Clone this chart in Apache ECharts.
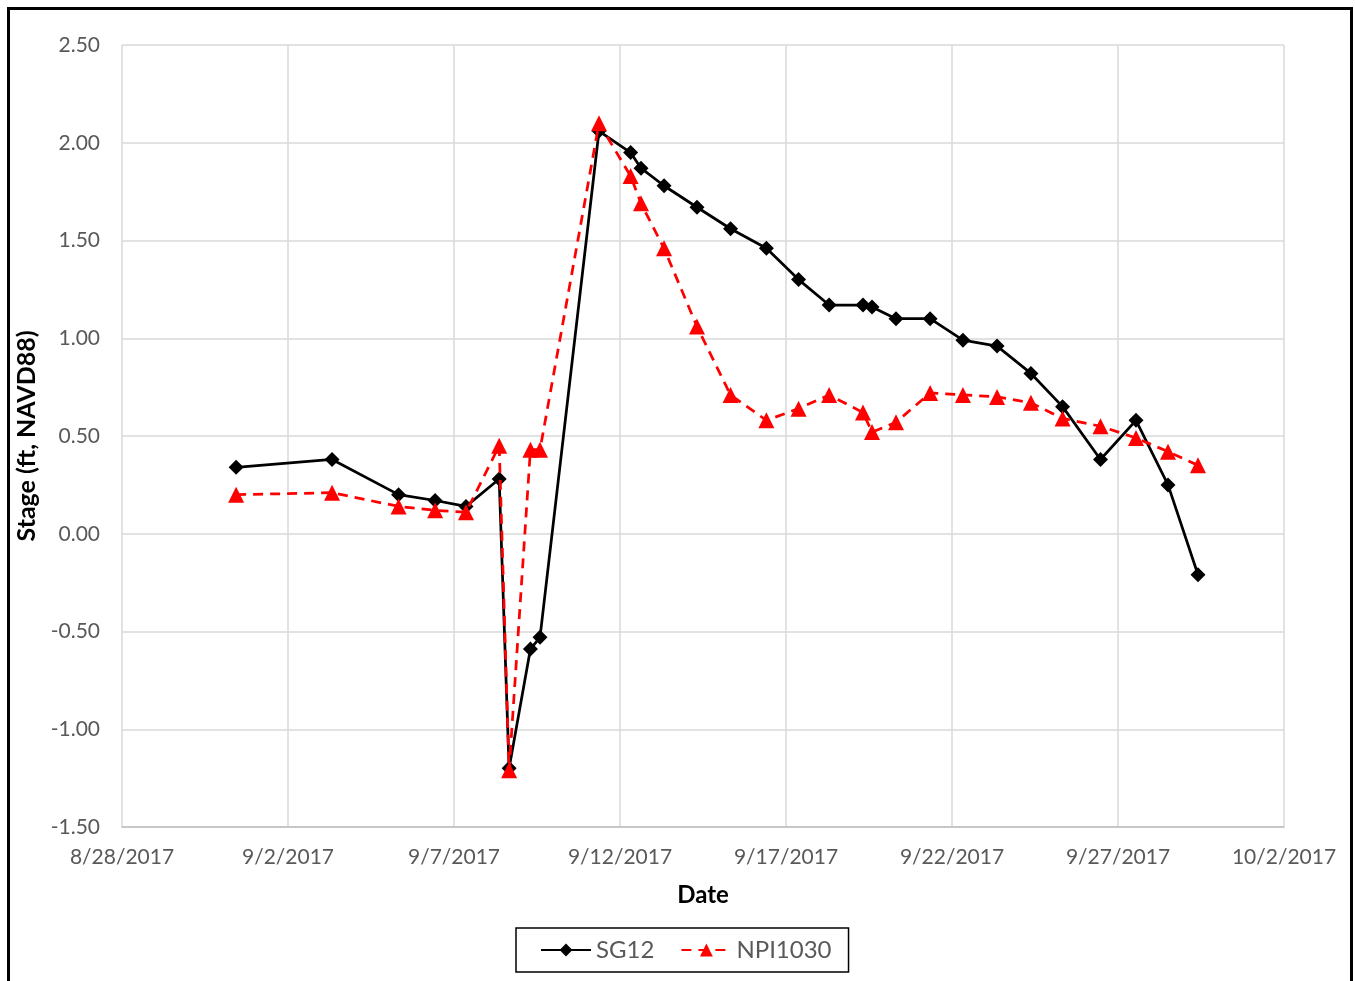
<!DOCTYPE html>
<html>
<head>
<meta charset="utf-8">
<title>Stage at SG12 and NPI1030</title>
<script src="https://cdn.jsdelivr.net/npm/echarts@6/dist/echarts.min.js"></script>
<style>
  html, body { margin: 0; padding: 0; background: #fff; }
  #chart { width: 1355px; height: 981px; }
</style>
</head>
<body>
<div id="chart"></div>
<script>
// Observation times (local clock, treated as UTC for plotting)
const obsTimes = [
  '2017-08-31 10:30', '2017-09-03 07:50', '2017-09-05 07:55', '2017-09-06 10:20',
  '2017-09-07 08:40', '2017-09-08 08:40', '2017-09-08 15:50', '2017-09-09 07:15',
  '2017-09-09 14:10', '2017-09-11 08:50', '2017-09-12 07:40', '2017-09-12 15:10',
  '2017-09-13 07:50', '2017-09-14 07:40', '2017-09-15 07:55', '2017-09-16 09:50',
  '2017-09-17 09:05', '2017-09-18 07:10', '2017-09-19 07:40', '2017-09-19 14:10',
  '2017-09-20 07:30', '2017-09-21 08:10', '2017-09-22 07:55', '2017-09-23 08:35',
  '2017-09-24 09:05', '2017-09-25 07:55', '2017-09-26 11:20', '2017-09-27 13:00',
  '2017-09-28 12:10', '2017-09-29 09:50'
];

// Stage, ft NAVD88
const sg12 = [
  0.34, 0.38, 0.20, 0.17, 0.14, 0.28, -1.20, -0.59, -0.53, 2.06,
  1.95, 1.87, 1.78, 1.67, 1.56, 1.46, 1.30, 1.17, 1.17, 1.16,
  1.10, 1.10, 0.99, 0.96, 0.82, 0.65, 0.38, 0.58, 0.25, -0.21
];
const npi1030 = [
  0.20, 0.21, 0.14, 0.12, 0.11, 0.45, -1.21, 0.43, 0.43, 2.10,
  1.83, 1.69, 1.46, 1.06, 0.71, 0.58, 0.64, 0.71, 0.62, 0.52,
  0.57, 0.72, 0.71, 0.70, 0.67, 0.59, 0.55, 0.49, 0.42, 0.35
];

// Axis extents
const xStart = '2017-08-28';
const xEnd = '2017-10-02';
const tickDays = 5;
const yMin = -1.5, yMax = 2.5, yStep = 0.5;

const DAY = 86400000;
function toMs(s) {
  const [d, t] = s.split(' ');
  const [Y, M, D] = d.split('-').map(Number);
  const [h, m] = (t || '00:00').split(':').map(Number);
  return Date.UTC(Y, M - 1, D, h, m);
}
function fmtDate(ms) {
  const d = new Date(ms);
  return (d.getUTCMonth() + 1) + '/' + d.getUTCDate() + '/' + d.getUTCFullYear();
}
const xs = obsTimes.map(toMs);
const pairs = vals => xs.map((x, i) => [x, vals[i]]);

const FONT = 'Lato, "Liberation Sans", sans-serif';
const GREY = '#595959';

const chart = echarts.init(document.getElementById('chart'), null, { renderer: 'canvas' });
chart.setOption({
  backgroundColor: '#ffffff',
  animation: false,
  grid: { left: 122, right: 71, top: 45, bottom: 154, containLabel: false },
  xAxis: {
    type: 'value',
    min: toMs(xStart),
    max: toMs(xEnd),
    interval: tickDays * DAY,
    name: 'Date',
    nameLocation: 'middle',
    nameGap: 56,
    nameTextStyle: { fontFamily: FONT, fontSize: 24, fontWeight: 'bold', color: '#000' },
    axisLine: { show: true, onZero: false, lineStyle: { color: '#bfbfbf', width: 1.5 } },
    axisTick: { show: false },
    axisLabel: {
      margin: 20, fontFamily: FONT, fontSize: 21, color: GREY,
      formatter: v => fmtDate(v)
    },
    splitLine: { show: true, lineStyle: { color: '#d9d9d9', width: 1.5 } }
  },
  yAxis: {
    type: 'value',
    min: yMin,
    max: yMax,
    interval: yStep,
    name: 'Stage (ft, NAVD88)',
    nameLocation: 'middle',
    nameGap: 78,
    nameTextStyle: { fontFamily: FONT, fontSize: 25, fontWeight: 'bold', color: '#000' },
    axisLine: { show: false },
    axisTick: { show: false },
    axisLabel: {
      margin: 22, fontFamily: FONT, fontSize: 21, color: GREY,
      formatter: v => v.toFixed(2)
    },
    splitLine: { show: true, lineStyle: { color: '#d9d9d9', width: 1.5 } }
  },
  legend: {
    left: 516,
    top: 928,
    orient: 'horizontal',
    padding: [10, 17, 10, 24],
    itemGap: 26,
    itemWidth: 50,
    itemHeight: 16,
    borderColor: '#000',
    borderWidth: 1.5,
    textStyle: { fontFamily: FONT, fontSize: 24, color: GREY },
    data: ['SG12', 'NPI1030']
  },
  series: [
    {
      name: 'SG12',
      type: 'line',
      data: pairs(sg12),
      symbol: 'diamond',
      symbolSize: 15,
      lineStyle: { color: '#000', width: 2.75 },
      itemStyle: { color: '#000' },
      z: 3
    },
    {
      name: 'NPI1030',
      type: 'line',
      data: pairs(npi1030),
      symbol: 'triangle',
      symbolSize: 16,
      lineStyle: { color: '#ff0000', width: 2.75, type: [10, 7] },
      itemStyle: { color: '#ff0000' },
      z: 4
    }
  ],
  graphic: [
    {
      type: 'rect',
      shape: { x: 8.5, y: 8.5, width: 1343, height: 1000 },
      style: { fill: 'none', stroke: '#000', lineWidth: 3 },
      silent: true
    }
  ]
});
</script>
</body>
</html>
